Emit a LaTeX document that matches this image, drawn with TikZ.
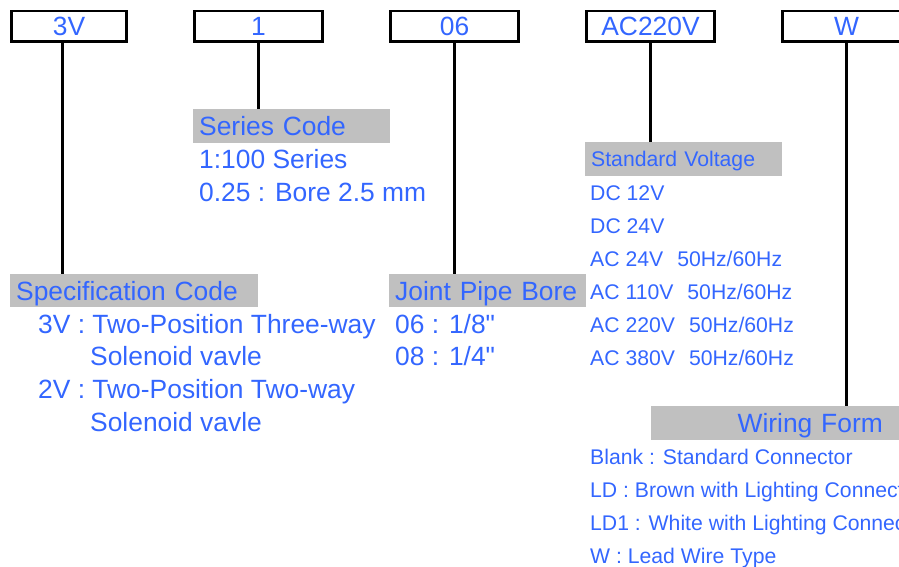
\documentclass[tikz,border=0pt]{standalone}
\usepackage{fontspec}
\setmainfont{Liberation Sans}[Ligatures=TeXOff]
\usepackage{xcolor}
\usetikzlibrary{positioning}
\definecolor{codeblue}{RGB}{51,102,255}
\definecolor{hdrgray}{RGB}{192,192,192}

\begin{document}
\begin{tikzpicture}[
    x=1pt,y=-1pt,
    every node/.style={text=codeblue,inner sep=0pt},
    bigtxt/.style={font=\fontsize{26.4}{30}\selectfont},
    smalltxt/.style={font=\fontsize{21.2}{25}\selectfont},
    codebox/.style={draw=black,line width=2.8pt,minimum width=128.2pt,minimum height=30.7pt,bigtxt},
    hdr/.style={fill=hdrgray,anchor=north west,inner xsep=6pt,text height=19pt,text depth=0pt,align=left,bigtxt},
    hdrs/.style={hdr,text height=15pt,smalltxt},
    item/.style={anchor=base west,bigtxt},
    items/.style={anchor=base west,smalltxt},
    lead/.style={draw=black,line width=3pt},
]
\useasboundingbox (0,0) rectangle (899,566);
\clip (0,0) rectangle (899,566);

% top row: code boxes
\node[codebox,minimum width=115.2pt] (b3v) at (69,26.25) {3V};
\node[codebox] (b1)  at (258.5,26.25) {1};
\node[codebox] (b06) at (454.5,26.25) {06};
\node[codebox] (bac) at (650.5,26.25) {AC220V};
\node[codebox] (bw)  at (846.5,26.25) {W};

% headers
\node[hdr,text width=236pt,minimum height=33pt] (spec)   at (10,274)  {Specification Code};
\node[hdr,text width=185pt,minimum height=34pt] (series) at (193,109) {Series Code};
\node[hdr,text width=185pt,minimum height=33pt] (joint)  at (389,274) {Joint Pipe Bore};
\node[hdrs,text width=185pt,minimum height=34pt] (volt)  at (585,142) {Standard Voltage};
\node[hdr,text width=306pt,minimum height=34pt,align=center] (wiring) at (651,406) {Wiring Form};

% leads
\draw[lead] ([xshift=-7pt]b3v.south) -- ([xshift=-7pt]b3v.south |- spec.north);
\draw[lead] (b1.south)  -- (b1.south |- series.north);
\draw[lead] (b06.south) -- (b06.south |- joint.north);
\draw[lead] (bac.south) -- (bac.south |- volt.north);
\draw[lead] (bw.south)  -- (bw.south |- wiring.north);

% specification code
\node[item] (spec1) at (38,333) {3V : Two-Position Three-way};
\node[item] (spec2) at (90,365) {Solenoid vavle};
\node[item] (spec3) at (38,398) {2V : Two-Position Two-way};
\node[item] (spec4) at (90,431) {Solenoid vavle};

% series code
\node[item] (ser1) at (199,168) {1:100 Series};
\node[item] (ser2) at (199,201) {0.25 : Bore 2.5 mm};

% joint pipe bore
\node[item] (jpb1) at (395,333) {06 : 1/8"};
\node[item] (jpb2) at (395,365) {08 : 1/4"};

% standard voltage
\node[items] (volt1) at (590,200) {DC 12V};
\node[items] (volt2) at (590,233) {DC 24V};
\node[items] (volt3) at (590,266) {AC 24V\hspace{14pt}50Hz/60Hz};
\node[items] (volt4) at (590,299) {AC 110V\hspace{14pt}50Hz/60Hz};
\node[items] (volt5) at (590,332) {AC 220V\hspace{14pt}50Hz/60Hz};
\node[items] (volt6) at (590,365) {AC 380V\hspace{14pt}50Hz/60Hz};

% wiring form
\node[items] (wire1) at (590,464) {Blank : Standard Connector};
\node[items] (wire2) at (590,497) {LD : Brown with Lighting Connector};
\node[items] (wire3) at (590,530) {LD1 : White with Lighting Connector};
\node[items] (wire4) at (590,563) {W : Lead Wire Type};
\end{tikzpicture}
\end{document}
